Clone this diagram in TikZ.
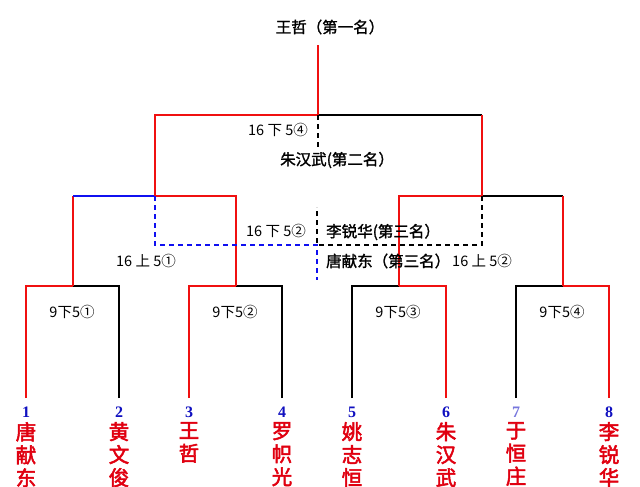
\documentclass[tikz,border=0pt]{standalone}
\usepackage{fontspec}
\newfontfamily\cjk{Noto Sans CJK SC}
\newfontfamily\cjkb[FakeBold=1.5]{Noto Sans CJK SC}
\newfontfamily\cjkbb[FakeBold=2.5]{Noto Sans CJK SC}
\newfontfamily\numf{Liberation Serif}
\definecolor{lred}{HTML}{F01010}
\definecolor{lblue}{HTML}{1010F0}
\definecolor{nred}{HTML}{E00010}
\definecolor{nblue}{HTML}{1010C0}
\definecolor{nlblue}{HTML}{7777DD}
\begin{document}
\begin{tikzpicture}[x=1pt,y=-1pt,
  rl/.style={draw=lred,line width=1.6pt},
  bl/.style={draw=black,line width=1.3pt},
  bul/.style={draw=lblue,line width=1.6pt},
  bd/.style={draw=black,line width=1.4pt,dash pattern=on 5pt off 4pt},
  bud/.style={draw=lblue,line width=1.4pt,dash pattern=on 5pt off 4pt},
  lab/.style={inner sep=0pt,font=\cjk\fontsize{14.5}{16}\selectfont},
  blab/.style={inner sep=0pt,font=\cjkb\fontsize{15.5}{17}\selectfont},
  num/.style={inner sep=0pt,font=\numf\bfseries\fontsize{16}{16}\selectfont,text=nblue},
  nm/.style={inner sep=0pt,anchor=north,align=center,font=\cjkbb\fontsize{20.5}{23}\selectfont,text=nred}]
\useasboundingbox (0,0) rectangle (640,487);
% leaves
\coordinate (l1) at (26,398);
\coordinate (l2) at (119,398);
\coordinate (l3) at (189,398);
\coordinate (l4) at (282,398);
\coordinate (l5) at (352,398);
\coordinate (l6) at (446,398);
\coordinate (l7) at (516,398);
\coordinate (l8) at (609,398);
% junctions
\coordinate (m1) at (73,286);
\coordinate (m2) at (236,286);
\coordinate (m3) at (399,286);
\coordinate (m4) at (563,286);
\coordinate (s1a) at (73,196);
\coordinate (s1) at (155,196);
\coordinate (s1b) at (236,196);
\coordinate (s2a) at (399,196);
\coordinate (s2) at (482,196);
\coordinate (s2b) at (563,196);
\coordinate (f1) at (155,115);
\coordinate (fc) at (318,115);
\coordinate (f2) at (482,115);
\coordinate (top) at (318,45);
\coordinate (d0) at (318,150);
\coordinate (d1) at (317,245);
\coordinate (d2) at (317,280);
\coordinate (d3) at (317,245);
\coordinate (d4) at (317,207);
% level 1
\draw[rl] (l1) |- (m1);
\draw[bl] (l2) |- (m1);
\draw[rl] (l3) |- (m2);
\draw[bl] (l4) |- (m2);
\draw[bl] (l5) |- (m3);
\draw[rl] (l6) |- (m3);
\draw[bl] (l7) |- (m4);
\draw[rl] (l8) |- (m4);
% level 2
\draw[rl] (m1) -- (s1a);
\draw[bul] (s1a) -- (s1);
\draw[rl] (m2) |- (s1);
\draw[rl] (m3) |- (s2);
\draw[bl] (s2) -- (s2b);
\draw[rl] (s2b) -- (m4);
% level 3
\draw[rl] (s1) |- (fc);
\draw[bl] (fc) -- (f2);
\draw[rl] (f2) -- (s2);
\draw[rl] (fc) -- (top);
% dashed
\draw[bd] (fc) -- (d0);
\draw[bud] (s1) |- (d1) -- (d2);
\draw[bd] (s2) |- (d3) -- (d4);
% labels
\node[blab] (ttl) at (330,27) {王哲（第一名）};
\node[lab,anchor=east] (r4) at (308,130) {16 下 5④};
\node[blab,anchor=west] (c2) at (280,160) {朱汉武(第二名）};
\node[lab,anchor=east] (r2) at (306,231) {16 下 5②};
\node[blab,anchor=west] (c3a) at (326,232) {李锐华(第三名）};
\node[lab,anchor=west] (u1) at (116,261) {16 上 5①};
\node[blab,anchor=west] (c3b) at (326,261) {唐献东（第三名）};
\node[lab,anchor=west] (u2) at (452,261) {16 上 5②};
\node[lab] (g1) at (72,312) {9下5①};
\node[lab] (g2) at (235,312) {9下5②};
\node[lab] (g3) at (398,312) {9下5③};
\node[lab] (g4) at (562,312) {9下5④};
% leaf labels
\node[num] (k1) at (26,412) {1};
\node[num] (k2) at (119,412) {2};
\node[num] (k3) at (189,412) {3};
\node[num] (k4) at (282,412) {4};
\node[num] (k5) at (352,412) {5};
\node[num] (k6) at (446,412) {6};
\node[num,text=nlblue] (k7) at (516,412) {7};
\node[num] (k8) at (609,412) {8};
\node[nm] (n1) at (26,422) {唐\\献\\东};
\node[nm] (n2) at (119,422) {黄\\文\\俊};
\node[nm] (n3) at (189,422) {王\\哲};
\node[nm] (n4) at (282,422) {罗\\帜\\光};
\node[nm] (n5) at (352,422) {姚\\志\\恒};
\node[nm] (n6) at (446,422) {朱\\汉\\武};
\node[nm] (n7) at (516,422) {于\\恒\\庄};
\node[nm] (n8) at (609,422) {李\\锐\\华};
\end{tikzpicture}
\end{document}
